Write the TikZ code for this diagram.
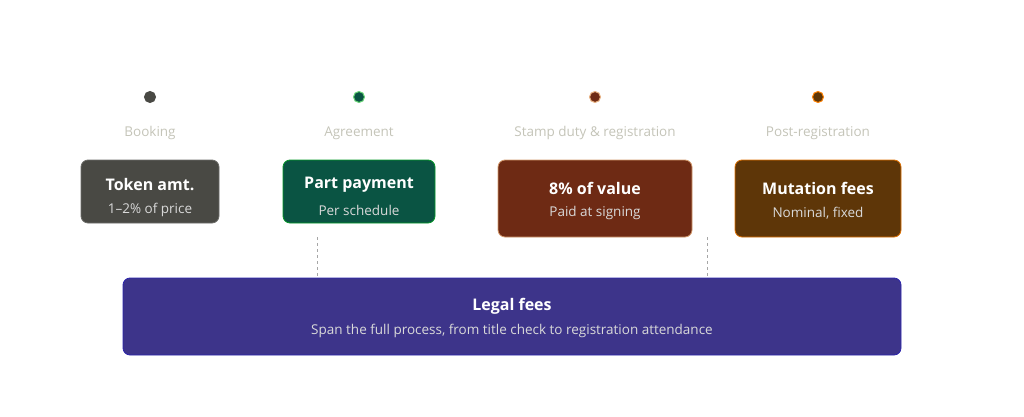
\documentclass[tikz,border=0pt]{standalone}
\usepackage{fontspec}
\setmainfont{Open Sans}
\begin{document}
\begin{tikzpicture}[x=1pt,y=-1pt,
 box/.style={rounded corners=7pt,line width=0.8pt},
 ttl/.style={font=\fontsize{16}{18}\selectfont\bfseries,text=white},
 sub/.style={font=\fontsize{13.5}{16}\selectfont,text=black!15},
 lab/.style={font=\fontsize{13.5}{16}\selectfont,text=black!25!white!75!olive!20},
 dot/.style={circle,minimum size=11pt,inner sep=0pt,line width=1pt}]
\useasboundingbox (0,0) rectangle (1024,417);
\definecolor{c1}{HTML}{494944}\definecolor{c2}{HTML}{0A5443}\definecolor{c3}{HTML}{6E2A14}\definecolor{c4}{HTML}{5E3608}\definecolor{c5}{HTML}{3D348A}
\definecolor{lg}{HTML}{C4C4B8}
\foreach \x/\c/\b/\l/\n in {150/c1/c1/Booking/a,359/c2/c2!40!green!60!white/Agreement/b,595/c3/c3!30!orange!50!white/Stamp duty \& registration/c,818/c4/orange/Post-registration/d}{
 \node[dot,fill=\c,draw=\b] (d\n) at (\x,97) {};
 \node[font=\fontsize{13.5}{16}\selectfont,text=lg] (l\n) at (\x,133) {\l};
}
\draw[box,fill=c1,draw=c1!80!white] (81,160) rectangle (219,223);
\node[ttl] (t1) at (150,185) {Token amt.};
\node[sub] (s1) at (150,210) {1–2\% of price};
\draw[box,fill=c2,draw=c2!60!green] (283,160) rectangle (435,223);
\node[ttl] (t2) at (359,185) {Part payment};
\node[sub] (s2) at (359,210) {Per schedule};
\draw[box,fill=c3,draw=c3!50!orange!60!white] (498,160) rectangle (692,237);
\node[ttl] (t3) at (595,188) {8\% of value};
\node[sub] (s3) at (595,213) {Paid at signing};
\draw[box,fill=c4,draw=orange!80!c4] (735,160) rectangle (901,237);
\node[ttl] (t4) at (818,188) {Mutation fees};
\node[sub] (s4) at (818,213) {Nominal, fixed};
\draw[gray!70,dashed,line width=0.7pt] (317,237) -- (317,278);
\draw[gray!70,dashed,line width=0.7pt] (707,237) -- (707,278);
\draw[box,fill=c5,draw=c5!70!blue] (123,278) rectangle (901,355);
\node[ttl] (t5) at (512,306) {Legal fees};
\node[sub] (s5) at (512,331) {Span the full process, from title check to registration attendance};
\end{tikzpicture}
\end{document}
